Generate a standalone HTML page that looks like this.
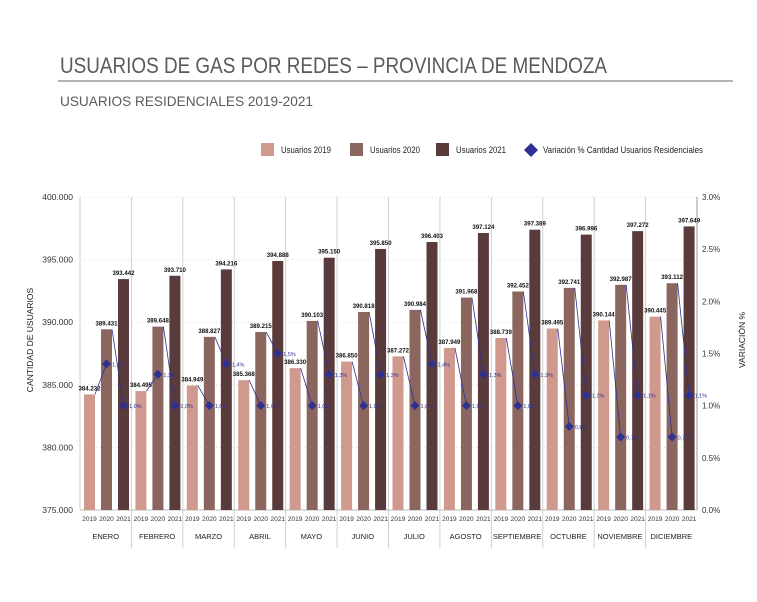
<!DOCTYPE html>
<html><head><meta charset="utf-8"><style>
body{margin:0;background:#fff;font-family:"Liberation Sans",sans-serif;}
svg text{font-family:"Liberation Sans",sans-serif;}
</style></head><body>
<svg id="c" width="757" height="597" xmlns="http://www.w3.org/2000/svg">
<text x="60" y="73" font-size="22" fill="#5a5a5a" textLength="547" lengthAdjust="spacingAndGlyphs">USUARIOS DE GAS POR REDES – PROVINCIA DE MENDOZA</text>
<line x1="58" y1="81" x2="733" y2="81" stroke="#9a9a9a" stroke-width="1.5"/>
<text x="60" y="106" font-size="14" fill="#5a5a5a" textLength="253" lengthAdjust="spacingAndGlyphs">USUARIOS RESIDENCIALES 2019-2021</text>
<g font-size="9" fill="#222">
<g><rect x="261" y="143" width="13" height="13" fill="#cf9a8d"/><text x="281" y="153" textLength="50" lengthAdjust="spacingAndGlyphs">Usuarios 2019</text></g>
<g><rect x="350" y="143" width="13" height="13" fill="#8a665e"/><text x="370" y="153" textLength="50" lengthAdjust="spacingAndGlyphs">Usuarios 2020</text></g>
<g><rect x="436" y="143" width="13" height="13" fill="#5a3b3c"/><text x="456" y="153" textLength="50" lengthAdjust="spacingAndGlyphs">Usuarios 2021</text></g>
<g><path d="M531 143 L538 150 L531 157 L524 150 Z" fill="#2e3192"/><text x="543" y="153" textLength="160" lengthAdjust="spacingAndGlyphs">Variación % Cantidad Usuarios Residenciales</text></g>
</g>
<text transform="translate(33,340) rotate(-90)" font-size="8.5" fill="#222" text-anchor="middle">CANTIDAD DE USUARIOS</text>
<text transform="translate(745,340) rotate(-90)" font-size="8.5" fill="#222" text-anchor="middle">VARIACIÓN %</text>
<g id="plot"></g>
</svg>
<script>
const months=["ENERO","FEBRERO","MARZO","ABRIL","MAYO","JUNIO","JULIO","AGOSTO","SEPTIEMBRE","OCTUBRE","NOVIEMBRE","DICIEMBRE"];
const years=["2019","2020","2021"];
const u2019=[384232,384495,384949,385368,386330,386850,387272,387949,388739,389495,390144,390445];
const u2020=[389431,389648,388827,389215,390103,390818,390984,391968,392452,392741,392987,393112];
const u2021=[393442,393710,394216,394888,395150,395850,396403,397124,397389,396996,397272,397649];
const var2020=[1.4,1.3,1.0,1.0,1.0,1.0,1.0,1.0,1.0,0.8,0.7,0.7];
const var2021=[1.0,1.0,1.4,1.5,1.3,1.3,1.4,1.3,1.3,1.1,1.1,1.1];
const leftTicks=[375000,380000,385000,390000,395000,400000];
const rightTicks=[0,0.5,1.0,1.5,2.0,2.5,3.0];

const NS="http://www.w3.org/2000/svg";
const g=document.getElementById('plot');
const X0=80,X1=697,Y0=510,Y1=197;
const mw=(X1-X0)/months.length;
const yL=v=>Y0-(v-375000)/25000*(Y0-Y1);
const yR=v=>Y0-v/3*(Y0-Y1);
const xm=i=>X0+i*mw;
function el(t,a,txt){const e=document.createElementNS(NS,t);for(const k in a)e.setAttribute(k,a[k]);if(txt!==undefined)e.textContent=txt;g.appendChild(e);return e;}

leftTicks.forEach(v=>{
 if(v>375000){const l=el('line',{x1:X0,x2:X1,y1:yL(v),y2:yL(v),stroke:'#ddd','stroke-dasharray':'1,3'});
 
 }
 const t=el('text',{x:73,y:yL(v)+3,'font-size':8.5,fill:'#333','text-anchor':'end'},(v/1000).toFixed(3));
 
 
});
rightTicks.forEach(v=>{
 const t=el('text',{x:702,y:yR(v)+3,'font-size':8,fill:'#333'},v.toFixed(1)+'%');
 
 
});
for(let i=0;i<=months.length;i++){
 const l=el('line',{x1:xm(i),x2:xm(i),y1:Y1,y2:(i==0||i==months.length)?Y0:548,stroke:'#d0d0d0','stroke-width':1});
 
 
}
el('line',{x1:xm(months.length),x2:xm(months.length),y1:Y1,y2:Y0,stroke:'#ccc','stroke-width':2});
el('line',{x1:X0,x2:X1,y1:Y0,y2:Y0,stroke:'#bbb'});
const cols=['#cf9a8d','#8a665e','#5a3b3c'];
const offs=[9.5,26.5,43.5];
const bw=11;
months.forEach((m,i)=>{
 const vals=[u2019[i],u2020[i],u2021[i]];
 vals.forEach((v,j)=>{
  const cx=xm(i)+offs[j];
  const r=el('rect',{x:cx-bw/2,y:yL(v),width:bw,height:Y0-yL(v),fill:cols[j]});
  
  
  const t=el('text',{x:cx,y:yL(v)-4,'font-size':6.5,'font-weight':'bold',fill:'#111','text-anchor':'middle',textLength:22,lengthAdjust:'spacingAndGlyphs'},(v/1000).toFixed(3));
  
  
  const yt=el('text',{x:cx,y:521,'font-size':6.5,fill:'#333','text-anchor':'middle'},years[j]);
  
  
 });
 const mt=el('text',{x:xm(i)+mw/2,y:539,'font-size':7.5,fill:'#222','text-anchor':'middle'},m);
 
 
});
months.forEach((m,i)=>{
 const vals=[u2019[i],u2020[i],u2021[i]];
 const vv=[var2020[i],var2021[i]];
 vv.forEach((p,k)=>{
  const cx=xm(i)+offs[k+1], cy=yR(p);
  const sx=xm(i)+offs[k]+bw/2, sy=yL(vals[k]);
  const ln=el('line',{x1:sx,y1:sy,x2:cx,y2:cy,stroke:'#2e3192','stroke-width':0.8});
  
  
  const d=el('path',{d:`M${cx} ${cy-4.5} L${cx+4.5} ${cy} L${cx} ${cy+4.5} L${cx-4.5} ${cy} Z`,fill:'#2e3192'});
  
  
  const t=el('text',{x:cx+5.5,y:cy+2.5,'font-size':5.5,fill:'#2e3192'},p.toFixed(1).replace('.',',')+'%');
  
  
 });
});
</script>
</body></html>
